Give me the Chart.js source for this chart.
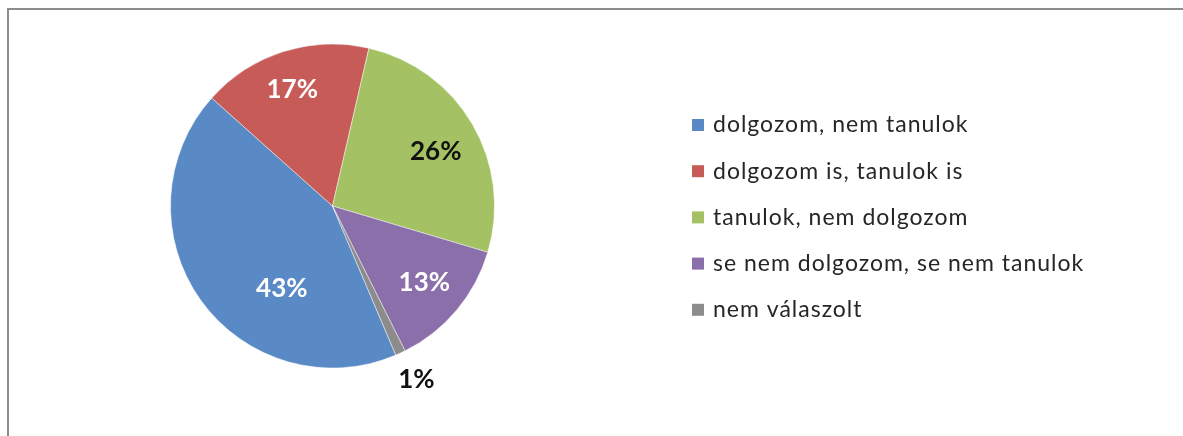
<!DOCTYPE html>
<html>
<head>
<meta charset="utf-8">
<script src="https://cdn.jsdelivr.net/npm/chart.js@4.4.1/dist/chart.umd.min.js"></script>
<style>
  html, body { margin: 0; padding: 0; background: #fff; overflow: hidden; }
  #wrap { position: relative; width: 1183px; height: 436px; }
  #frame { position: absolute; left: 7px; top: 8px; width: 1300px; height: 500px;
           border-top: 2px solid #8c8c8c; border-left: 2px solid #8c8c8c; }
  #myChart { position: absolute; left: 0; top: 0; }
</style>
</head>
<body>
<div id="wrap">
  <div id="frame"></div>
  <canvas id="myChart" width="1183" height="436"></canvas>
</div>
<script>
// data
const categories = ['dolgozom, nem tanulok', 'dolgozom is, tanulok is', 'tanulok, nem dolgozom', 'se nem dolgozom, se nem tanulok', 'nem válaszolt'];
const percentValues = [43, 17, 26, 13, 1];
const percentLabels = ['43%', '17%', '26%', '13%', '1%'];

const sliceColors = ['#5a8ac6', '#c65b58', '#a4c263', '#8b6fab', '#8c8c8c'];
const labelColors = ['#ffffff', '#ffffff', '#111111', '#ffffff', '#111111'];
// where each % label sits: fraction of radius, and angle nudge in degrees
const labelRadius = [0.6, 0.76, 0.72, 0.74, 1.19];
const labelShift = [-23, -1.5, 2.5, 0, -1];

const pctLabels = {
    id: 'pctLabels',
    afterDatasetsDraw(chart) {
        const ctx = chart.ctx;
        const meta = chart.getDatasetMeta(0);
        ctx.save();
        ctx.font = 'bold 26px Lato';
        ctx.textAlign = 'center';
        ctx.textBaseline = 'middle';
        meta.data.forEach(function(arc, i) {
            const p = arc.getProps(['x', 'y', 'startAngle', 'endAngle', 'outerRadius'], true);
            const mid = (p.startAngle + p.endAngle) / 2 + labelShift[i] * Math.PI / 180;
            const r = p.outerRadius * labelRadius[i];
            ctx.fillStyle = labelColors[i];
            ctx.fillText(percentLabels[i], p.x + Math.cos(mid) * r, p.y + Math.sin(mid) * r);
        });
        ctx.restore();
    }
};

const sideLegend = {
    id: 'sideLegend',
    afterDraw(chart) {
        const ctx = chart.ctx;
        const left = 692, top = 125, step = 46.2, box = 12;
        ctx.save();
        ctx.font = '23px Lato';
        ctx.letterSpacing = '1px';
        ctx.textBaseline = 'middle';
        chart.data.labels.forEach(function(lab, i) {
            const y = top + i * step;
            ctx.fillStyle = sliceColors[i];
            ctx.fillRect(left, y - box / 2, box, box);
            ctx.fillStyle = '#262626';
            ctx.fillText(lab, left + 21, y);
        });
        ctx.restore();
    }
};

const config = {
    type: 'pie',
    data: {
        labels: categories,
        datasets: [{
            data: percentValues,
            backgroundColor: sliceColors,
            borderColor: 'rgba(255,255,255,0.45)',
            borderWidth: 1
        }]
    },
    options: {
        responsive: false,
        animation: false,
        rotation: 157,
        layout: { padding: { left: 170, right: 688, top: 43, bottom: 67 } },
        plugins: {
            legend: { display: false },
            tooltip: { enabled: false }
        }
    },
    plugins: [pctLabels, sideLegend]
};

const myChart = new Chart(document.getElementById('myChart'), config);
</script>
</body>
</html>
